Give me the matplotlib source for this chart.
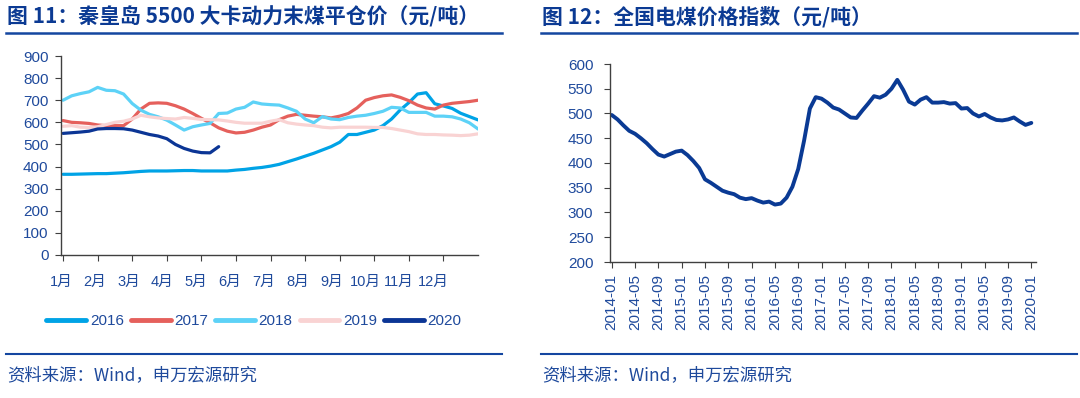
import numpy as np
import matplotlib
matplotlib.use('Agg')
from matplotlib import pyplot as plt
from matplotlib.lines import Line2D

plt.rcParams['font.family'] = ['Noto Sans CJK SC', 'DejaVu Sans']
num_font = ['Liberation Sans', 'Noto Sans CJK SC']

# ---- 图11 数据 (横轴: 月份, 每 1/4 月一个点) ----
month_x = np.arange(0, 12.01, 0.25)
month_labels = ['1月', '2月', '3月', '4月', '5月', '6月',
                '7月', '8月', '9月', '10月', '11月', '12月']

y2016 = [365, 365, 366, 367, 368, 368, 370, 372, 375, 378, 380, 380,
         380, 381, 382, 382, 380, 380, 380, 380, 384, 387, 392, 396,
         402, 410, 422, 434, 447, 460, 475, 490, 510, 545, 545, 555,
         565, 585, 615, 656, 689, 728, 734, 684, 674, 663, 641, 626, 611]
y2017 = [608, 600, 598, 595, 588, 585, 585, 585, 615, 660, 686, 688,
         686, 675, 660, 640, 618, 598, 575, 560, 552, 555, 565, 578,
         588, 612, 628, 636, 632, 628, 625, 620, 628, 640, 665, 700,
         712, 720, 724, 713, 698, 678, 665, 660, 678, 686, 690, 694, 700]
y2018 = [700, 720, 730, 738, 758, 745, 743, 728, 685, 655, 636, 625,
         610, 588, 565, 580, 588, 595, 640, 642, 660, 668, 692, 683,
         680, 678, 665, 650, 615, 598, 626, 615, 612, 622, 628, 632,
         640, 650, 668, 665, 645, 645, 645, 628, 628, 625, 615, 598, 570]
y2019 = [582, 585, 578, 577, 580, 590, 600, 605, 615, 632, 625, 620,
         617, 615, 622, 618, 613, 612, 611, 606, 600, 596, 596, 596,
         605, 612, 598, 592, 588, 585, 578, 575, 578, 578, 578, 578,
         577, 577, 572, 565, 558, 548, 545, 545, 543, 542, 540, 542, 548]
y2020 = [550, 553, 556, 560, 570, 572, 572, 571, 565, 555, 545, 538,
         526, 500, 482, 470, 463, 462, 490]

series = [('2016', y2016, '#00A3E6'),
          ('2017', y2017, '#E5605C'),
          ('2018', y2018, '#5DD2F7'),
          ('2019', y2019, '#F9D3D3'),
          ('2020', y2020, '#0B3595')]

# ---- 图12 数据 (2014-01 起按月) ----
index_vals = [497, 488, 476, 465, 459, 450, 440, 428, 417, 413, 418, 423,
              425, 416, 404, 390, 367, 360, 352, 344, 340, 337, 330, 327,
              329, 324, 320, 322, 316, 318, 330, 352, 388, 445, 510, 533,
              530, 522, 512, 508, 500, 492, 491, 506, 520, 535, 532, 538,
              550, 568, 548, 524, 518, 528, 533, 522, 522, 523, 520, 521,
              510, 511, 500, 494, 499, 492, 487, 486, 488, 492, 484, 477, 481]
index_ticks = ['2014-01', '2014-05', '2014-09', '2015-01', '2015-05', '2015-09',
               '2016-01', '2016-05', '2016-09', '2017-01', '2017-05', '2017-09',
               '2018-01', '2018-05', '2018-09', '2019-01', '2019-05', '2019-09',
               '2020-01']

navy = '#0B3A93'
txt = '#1F4A9C'
axc = '#404040'

fig = plt.figure(figsize=(10.8, 3.98), dpi=100)


def style_axes(ax):
    for s in ['top', 'right']:
        ax.spines[s].set_visible(False)
    for s in ['left', 'bottom']:
        ax.spines[s].set_color(axc)
        ax.spines[s].set_linewidth(1.0)
    ax.tick_params(colors=axc, labelcolor=txt, labelsize=11, length=4, direction='out')
    for lab in ax.get_xticklabels(which='both') + ax.get_yticklabels():
        lab.set_family(num_font)


# 左图
ax1 = fig.add_axes([61 / 1080, 1 - 255 / 398, (478 - 61) / 1080, 199 / 398])
for name, vals, c in series:
    ax1.plot(month_x[:len(vals)], vals, color=c, lw=2.3, solid_capstyle='round', label=name)
ax1.set_xlim(0, 12)
ax1.set_ylim(0, 900)
ax1.set_yticks(np.arange(0, 901, 100))
ax1.set_xticks(np.arange(12))
ax1.set_xticklabels([])
ax1.set_xticks(np.arange(12) * 0.978 - 0.06, minor=True)
ax1.set_xticklabels(month_labels, minor=True)
style_axes(ax1)
ax1.tick_params(axis='y', pad=5)
ax1.tick_params(axis='x', which='minor', length=0, pad=14, labelsize=10.5, labelcolor=txt)

handles = [Line2D([], [], color=c, lw=3.5, solid_capstyle='round') for _, _, c in series]
fig.legend(handles, [s[0] for s in series], loc='center', bbox_to_anchor=(254 / 1080, 1 - 321 / 398),
           ncol=5, frameon=False, prop={'family': num_font, 'size': 11}, handlelength=2.6,
           handletextpad=0.25, columnspacing=0.45, labelcolor=txt)

# 右图
ax2 = fig.add_axes([610 / 1080, 1 - 262 / 398, (1036 - 610) / 1080, 198 / 398])
ax2.plot(np.arange(len(index_vals)), index_vals, color='#0A3A94', lw=2.8, solid_capstyle='round')
ax2.set_xlim(-0.3, 72.8)
ax2.set_ylim(200, 600)
ax2.set_yticks(np.arange(200, 601, 50))
ax2.set_xticks(np.arange(0, 73, 4))
ax2.set_xticklabels(index_ticks, rotation=90)
style_axes(ax2)
ax2.tick_params(axis='y', pad=8)
ax2.tick_params(axis='x', pad=5)

# 标题、分隔线、来源
fig.text(7 / 1080, 1 - 17 / 398, '图 11：秦皇岛 5500 大卡动力末煤平仓价（元/吨）', fontsize=15,
         fontweight='bold', color=navy, va='center', ha='left')
fig.text(542 / 1080, 1 - 17 / 398, '图 12：全国电煤价格指数（元/吨）', fontsize=15,
         fontweight='bold', color=navy, va='center', ha='left')
for x0, x1 in [(6, 502), (541, 1077)]:
    fig.add_artist(Line2D([x0 / 1080, x1 / 1080], [1 - 33 / 398] * 2, color='#1446A0', lw=1.8))
    fig.add_artist(Line2D([x0 / 1080, x1 / 1080], [1 - 354 / 398] * 2, color='#1446A0', lw=1.5))
for x0 in [7, 542]:
    fig.text(x0 / 1080, 1 - 375 / 398, '资料来源：Wind，申万宏源研究', fontsize=12.5, color=txt,
             va='center', ha='left')

fig.savefig('out.png', dpi=100)
